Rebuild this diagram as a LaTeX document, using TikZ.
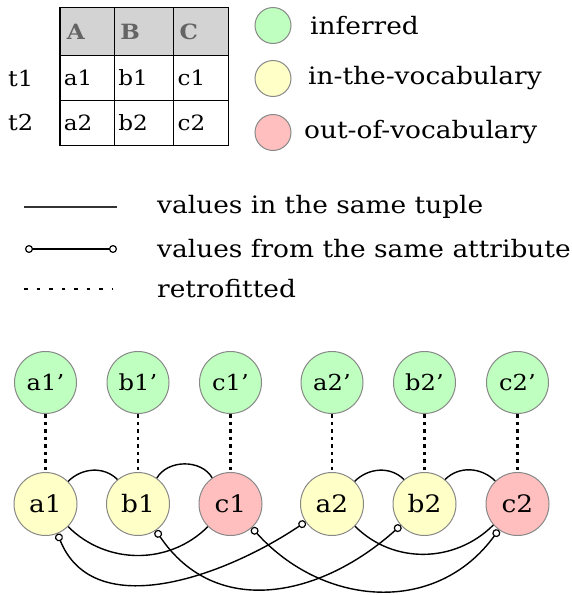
\documentclass[tikz,border=0pt]{standalone}
\usepackage{fontspec}
\setmainfont[FakeStretch=1.1]{DejaVu Serif}
\usetikzlibrary{arrows.meta}
\definecolor{infgreen}{RGB}{191,255,191}
\definecolor{invyellow}{RGB}{255,255,200}
\definecolor{oovred}{RGB}{255,191,191}
\definecolor{nodeborder}{RGB}{136,136,136}
\definecolor{hdrfill}{RGB}{211,211,211}
\definecolor{hdrtext}{RGB}{100,100,100}
\begin{document}
\begin{tikzpicture}[x=1pt,y=1pt,
  vnode/.style={circle, draw=nodeborder, line width=1pt, minimum size=63pt, inner sep=0pt, font=\fontsize{24}{28}\selectfont},
  topnode/.style={vnode, fill=infgreen, minimum size=62pt, font=\fontsize{22}{26}\selectfont},
  invnode/.style={vnode, fill=invyellow},
  oovnode/.style={vnode, fill=oovred},
  legcirc/.style={circle, draw=nodeborder, line width=1pt, minimum size=36pt, inner sep=0pt},
  legtext/.style={anchor=west, inner sep=0pt, font=\fontsize{24}{28}\selectfont},
  cell/.style={draw=black, line width=1.3pt, anchor=north west, inner xsep=4pt, inner ysep=0pt, align=left, font=\fontsize{21}{25}\selectfont},
  hdrcell/.style={cell, fill=hdrfill, text=hdrtext, font=\fontsize{21}{25}\selectfont\bfseries},
  rowlab/.style={anchor=west, inner sep=0pt, font=\fontsize{22}{26}\selectfont},
  tuple/.style={draw=black, line width=1.4pt},
  attr/.style={draw=black, line width=1.4pt, {Circle[fill=white,length=8pt,width=8pt,line width=1.2pt]}-{Circle[fill=white,length=8pt,width=8pt,line width=1.2pt]}},
  retro/.style={draw=black, line width=2.8pt, dash pattern=on 3.5pt off 4pt},
  legsolid/.style={draw=black!80, line width=1.3pt},
  legdots/.style={draw=black, line width=1.8pt, dash pattern=on 3.5pt off 9pt}
]
\useasboundingbox (0,0) rectangle (572,-595);

% ---- table ----
\node[hdrcell, minimum width=54.4pt, minimum height=48.3pt, inner xsep=7pt, text width=40.4pt] (hA) at (59.3,-6.7) {A};
\node[hdrcell, minimum width=59.3pt, minimum height=48.3pt, inner xsep=6pt, text width=47.3pt] (hB) at (113.7,-6.7) {B};
\node[hdrcell, minimum width=54.7pt, minimum height=48.3pt, inner xsep=6pt, text width=42.7pt] (hC) at (173,-6.7) {C};
\node[cell, minimum width=54.4pt, minimum height=45pt, text width=46.4pt] (ca1) at (59.3,-55) {a1};
\node[cell, minimum width=59.3pt, minimum height=45pt, text width=51.3pt] (cb1) at (113.7,-55) {b1};
\node[cell, minimum width=54.7pt, minimum height=45pt, text width=46.7pt] (cc1) at (173,-55) {c1};
\node[cell, minimum width=54.4pt, minimum height=45pt, text width=46.4pt] (ca2) at (59.3,-100) {a2};
\node[cell, minimum width=59.3pt, minimum height=45pt, text width=51.3pt] (cb2) at (113.7,-100) {b2};
\node[cell, minimum width=54.7pt, minimum height=45pt, text width=46.7pt] (cc2) at (173,-100) {c2};
\node[rowlab] (t1) at (8,-78) {t1};
\node[rowlab] (t2) at (8,-122) {t2};

% ---- colour legend ----
\node[legcirc, fill=infgreen] (lg) at (273,-25.5) {};
\node[legcirc, fill=invyellow] (ly) at (273,-78.5) {};
\node[legcirc, fill=oovred] (lr) at (273,-132.5) {};
\node[legtext] (tg) at (310,-25.5) {inferred};
\node[legtext] (ty) at (308,-78.5) {in-the-vocabulary};
\node[legtext] (tr) at (304,-132.5) {out-of-vocabulary};

% ---- line legend ----
\coordinate (s1) at (24,-207);
\coordinate (s2) at (117,-207);
\coordinate (m1) at (25,-249);
\coordinate (m2) at (117,-249);
\coordinate (d1) at (24,-289);
\coordinate (d2) at (112,-289);
\draw[legsolid] (s1) -- (s2);
\draw[attr, line width=1.3pt] (m1) -- (m2);
\draw[legdots] (d1) -- (d2);
\node[legtext] (ls) at (157,-207) {values in the same tuple};
\node[legtext] (lm) at (157,-249) {values from the same attribute};
\node[legtext] (ld) at (157,-289) {retrofitted};

% ---- graph nodes ----
\node[topnode] (a1p) at (45.5,-382.5) {a1’};
\node[topnode] (b1p) at (138,-382.5) {b1’};
\node[topnode] (c1p) at (230.5,-382.5) {c1’};
\node[topnode] (a2p) at (332,-382.5) {a2’};
\node[topnode] (b2p) at (424.5,-382.5) {b2’};
\node[topnode] (c2p) at (517.5,-382.5) {c2’};
\node[invnode] (a1) at (45.5,-504) {a1};
\node[invnode] (b1) at (138,-504) {b1};
\node[oovnode] (c1) at (230.5,-504) {c1};
\node[invnode] (a2) at (332,-504) {a2};
\node[invnode] (b2) at (424.5,-504) {b2};
\node[oovnode] (c2) at (517.5,-504) {c2};

% retrofitted
\foreach \n in {a1,b1,c1,a2,b2,c2}{
  \draw[retro] (\n p.south) -- (\n.north);
}

% same tuple
\draw[tuple] (a1.45) to[out=45,in=135] (b1.130);
\draw[tuple] (b1.54) to[out=60,in=120] (c1.125);
\draw[tuple] (a1.-45) to[out=-45,in=-135] (c1.-135);
\draw[tuple] (a2.45) to[out=45,in=135] (b2.130);
\draw[tuple] (b2.50) to[out=45,in=135] (c2.134);
\draw[tuple] (a2.-44) to[out=-45,in=-135] (c2.-139);

% same attribute
\draw[attr] (a1.-68) to[out=-68,in=-146] (a2.-146);
\draw[attr] (b1.-56) to[out=-56,in=-138,looseness=1.12] (b2.-138);
\draw[attr] (c1.-48) to[out=-48,in=-126,looseness=1.1] (c2.-126);
\end{tikzpicture}
\end{document}
